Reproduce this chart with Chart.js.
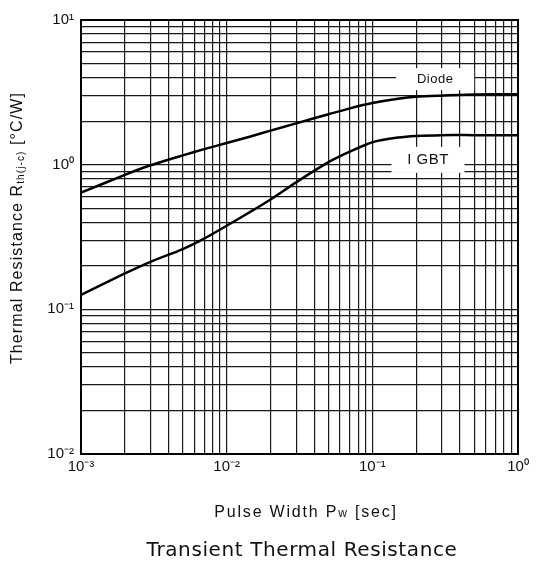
<!DOCTYPE html>
<html>
<head>
<meta charset="utf-8">
<script src="https://cdn.jsdelivr.net/npm/chart.js@4.4.1/dist/chart.umd.min.js"></script>
<style>
  body { margin: 0; background: #fff; }
  canvas { display: block; }
</style>
</head>
<body>
<canvas id="chart" width="541" height="567"></canvas>
<script>
// values
const pulseWidth = [0.001, 0.002, 0.003, 0.005, 0.007, 0.01, 0.015, 0.02, 0.03, 0.05, 0.07, 0.1, 0.15, 0.2, 0.3, 0.5, 1.0];
const diodeRth  = [0.64, 0.85, 0.99, 1.16, 1.28, 1.41, 1.58, 1.72, 1.93, 2.23, 2.45, 2.67, 2.86, 2.95, 3.0, 3.05, 3.07];
const igbtRth   = [0.126, 0.177, 0.213, 0.261, 0.308, 0.378, 0.481, 0.575, 0.755, 1.04, 1.23, 1.43, 1.54, 1.58, 1.6, 1.6, 1.6];

const xDecades = [0.001, 0.01, 0.1, 1];
const xTickLabels = ['10⁻³', '10⁻²', '10⁻¹', '10⁰'];
const yDecades = [0.01, 0.1, 1, 10];
const yTickLabels = ['10⁻²', '10⁻¹', '10⁰', '10¹'];
const gridSteps = [1, 2, 3, 4, 5, 6, 7, 8, 9];

function gridTicks(decades) {
    const ticks = [];
    decades.forEach((d, i) => {
        if (i === decades.length - 1) { ticks.push({ value: d }); return; }
        gridSteps.forEach(m => ticks.push({ value: +(m * d).toPrecision(3) }));
    });
    return ticks;
}

function decadeLabel(decades, labels) {
    return function (value) {
        const i = decades.findIndex(d => Math.abs(d - value) / d < 1e-6);
        return i >= 0 ? labels[i] : '';
    };
}

const curveLabels = [
    { text: 'Diode', x: 0.27, y: 3.9, w: 78, h: 22, font: '13px "Liberation Sans", Arial, sans-serif' },
    { text: 'I GBT', x: 0.241, y: 1.08, w: 73, h: 26, font: '15px "Liberation Sans", Arial, sans-serif' }
];

const textPlugin = {
    id: 'texts',
    beforeDatasetsDraw(chart) {
        const { ctx, scales } = chart;
        ctx.save();
        ctx.fillStyle = '#fff';
        curveLabels.forEach(l => {
            const px = scales.x.getPixelForValue(l.x);
            const py = scales.y.getPixelForValue(l.y);
            ctx.fillRect(px - l.w / 2, py - l.h / 2, l.w, l.h);
        });
        ctx.restore();
    },
    afterDraw(chart) {
        const { ctx, chartArea, scales } = chart;
        ctx.save();
        ctx.strokeStyle = '#000';
        ctx.lineWidth = 2;
        ctx.strokeRect(chartArea.left, chartArea.top, chartArea.right - chartArea.left, chartArea.bottom - chartArea.top);

        ctx.fillStyle = '#111';
        ctx.textAlign = 'center';
        ctx.textBaseline = 'middle';
        curveLabels.forEach(l => {
            ctx.font = l.font;
            ctx.letterSpacing = '0.5px';
            ctx.fillText(l.text, scales.x.getPixelForValue(l.x), scales.y.getPixelForValue(l.y));
        });

        // axis titles, the small parts sit a bit low like in the print
        const big = '16px "Liberation Sans", Arial, sans-serif';
        const small = '10px "Liberation Sans", Arial, sans-serif';
        const yParts = [['Thermal Resistance R', big, 0], ['th(j-c)', small, 3], [' [°C/W]', big, 0]];
        drawParts(ctx, yParts, 18, 228, -Math.PI / 2, '1.1px');

        const xParts = [['Pulse Width P', big, 0], ['w', '12px "Liberation Sans", Arial, sans-serif', 1], [' [sec]', big, 0]];
        drawParts(ctx, xParts, 306, 513, 0, '1.8px');

        ctx.font = '20px "DejaVu Sans", "Noto Sans", sans-serif';
        ctx.letterSpacing = '0.6px';
        ctx.textAlign = 'center';
        ctx.textBaseline = 'middle';
        ctx.fillStyle = '#111';
        ctx.fillText('Transient Thermal Resistance', 302, 551);
        ctx.restore();
    }
};

function drawParts(ctx, parts, cx, cy, angle, spacing) {
    ctx.save();
    ctx.letterSpacing = spacing;
    let total = 0;
    parts.forEach(p => { ctx.font = p[1]; total += ctx.measureText(p[0]).width; });
    ctx.translate(cx, cy);
    ctx.rotate(angle);
    ctx.textAlign = 'left';
    ctx.textBaseline = 'middle';
    ctx.fillStyle = '#111';
    let x = -total / 2;
    parts.forEach(p => {
        ctx.font = p[1];
        ctx.fillText(p[0], x, p[2]);
        x += ctx.measureText(p[0]).width;
    });
    ctx.restore();
}

const tickFont = { family: '"Liberation Sans", Arial, sans-serif', size: 15 };
const gridStyle = { color: '#1a1a1a', lineWidth: 1.2, drawTicks: false };

new Chart(document.getElementById('chart'), {
    type: 'line',
    data: {
        labels: pulseWidth,
        datasets: [
            {
                label: 'Diode',
                data: pulseWidth.map((x, i) => ({ x, y: diodeRth[i] })),
                borderColor: '#000',
                borderWidth: 2.5,
                pointRadius: 0,
                tension: 0.25,
                fill: false
            },
            {
                label: 'I GBT',
                data: pulseWidth.map((x, i) => ({ x, y: igbtRth[i] })),
                borderColor: '#000',
                borderWidth: 2.5,
                pointRadius: 0,
                tension: 0.25,
                fill: false
            }
        ]
    },
    options: {
        responsive: false,
        animation: false,
        layout: { padding: { left: 0, top: 20, right: 23, bottom: 0 } },
        plugins: { legend: { display: false }, tooltip: { enabled: false } },
        scales: {
            x: {
                type: 'logarithmic',
                min: 0.001,
                max: 1,
                afterBuildTicks: s => { s.ticks = gridTicks(xDecades); },
                afterFit: s => { s.height = 113; },
                grid: gridStyle,
                border: { display: true, color: '#000', width: 2 },
                ticks: {
                    autoSkip: false, maxRotation: 0, padding: 4,
                    color: '#111', font: tickFont,
                    callback: decadeLabel(xDecades, xTickLabels)
                }
            },
            y: {
                type: 'logarithmic',
                min: 0.01,
                max: 10,
                afterBuildTicks: s => { s.ticks = gridTicks(yDecades); },
                afterFit: s => { s.width = 81; },
                grid: gridStyle,
                border: { display: true, color: '#000', width: 2 },
                ticks: {
                    autoSkip: false, padding: 7,
                    color: '#111', font: tickFont,
                    callback: decadeLabel(yDecades, yTickLabels)
                }
            }
        }
    },
    plugins: [textPlugin]
});
</script>
</body>
</html>
